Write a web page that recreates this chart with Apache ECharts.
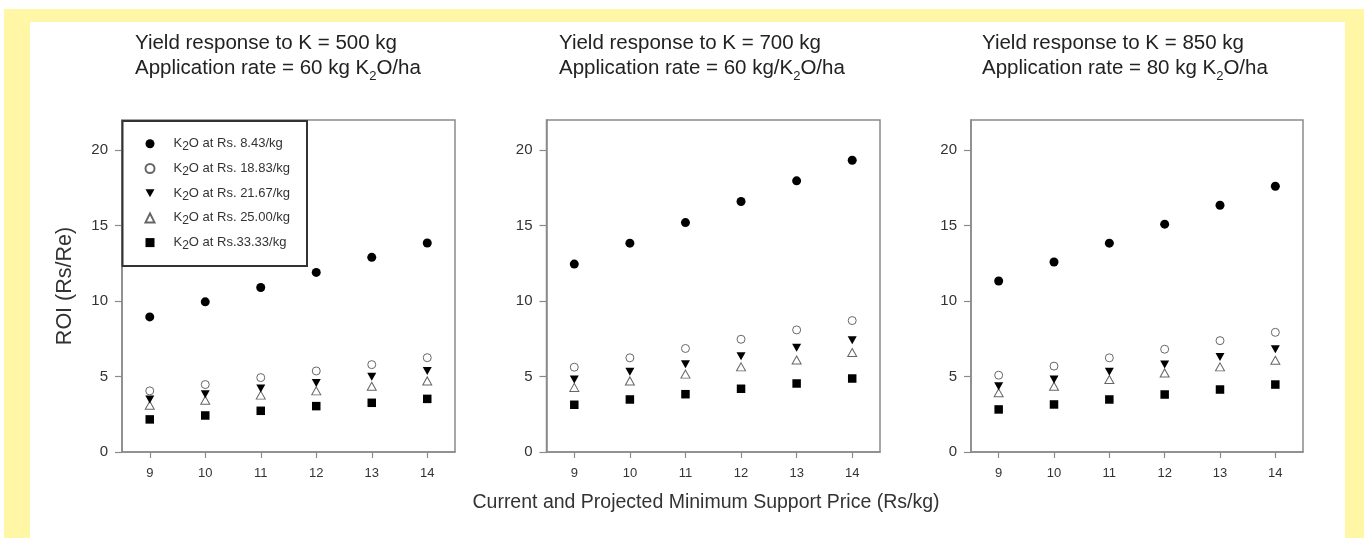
<!DOCTYPE html>
<html>
<head>
<meta charset="utf-8">
<script src="https://cdn.jsdelivr.net/npm/echarts@6/dist/echarts.min.js"></script>
<style>
  html, body { margin: 0; padding: 0; width: 1364px; height: 538px; overflow: hidden; background: #ffffff; }
  #frame { position: absolute; left: 4px; top: 9px; width: 1360px; height: 529px; background: #FFF7A6; }
  #inner { position: absolute; left: 30px; top: 22px; width: 1315px; height: 516px; background: #ffffff; }
  #chart { position: absolute; left: 0; top: 0; width: 1364px; height: 538px; }
</style>
</head>
<body>
<div id="frame"></div>
<div id="inner"></div>
<div id="chart"></div>
<script>
// ---------- data ----------
const xCategories = ['9', '10', '11', '12', '13', '14'];
const yTicks = [0, 5, 10, 15, 20];
const seriesNames = ['K₂O at Rs. 8.43/kg', 'K₂O at Rs. 18.83/kg', 'K₂O at Rs. 21.67/kg', 'K₂O at Rs. 25.00/kg', 'K₂O at Rs.33.33/kg'];

// Panel 1: Yield response to K = 500 kg, 60 kg K2O/ha
const p1_rs843  = [8.95, 9.95, 10.9, 11.9, 12.9, 13.85];
const p1_rs1883 = [4.05, 4.47, 4.93, 5.37, 5.79, 6.25];
const p1_rs2167 = [3.48, 3.83, 4.20, 4.58, 4.98, 5.36];
const p1_rs2500 = [3.10, 3.43, 3.77, 4.05, 4.36, 4.71];
const p1_rs3333 = [2.16, 2.42, 2.73, 3.04, 3.26, 3.52];

// Panel 2: Yield response to K = 700 kg, 60 kg K2O/ha
const p2_rs843  = [12.45, 13.84, 15.2, 16.6, 17.97, 19.33];
const p2_rs1883 = [5.62, 6.24, 6.86, 7.47, 8.09, 8.71];
const p2_rs2167 = [4.80, 5.31, 5.82, 6.35, 6.90, 7.41];
const p2_rs2500 = [4.28, 4.71, 5.16, 5.64, 6.10, 6.59];
const p2_rs3333 = [3.13, 3.48, 3.83, 4.19, 4.54, 4.87];

// Panel 3: Yield response to K = 850 kg, 80 kg K2O/ha
const p3_rs843  = [11.33, 12.59, 13.84, 15.1, 16.35, 17.61];
const p3_rs1883 = [5.09, 5.69, 6.24, 6.81, 7.38, 7.93];
const p3_rs2167 = [4.36, 4.80, 5.31, 5.79, 6.30, 6.81];
const p3_rs2500 = [3.92, 4.36, 4.80, 5.24, 5.64, 6.08];
const p3_rs3333 = [2.82, 3.15, 3.48, 3.81, 4.14, 4.47];

const panelTitles = [
  ['Yield response to K = 500 kg', 'Application rate = 60 kg K', '2', 'O/ha'],
  ['Yield response to K = 700 kg', 'Application rate = 60 kg/K', '2', 'O/ha'],
  ['Yield response to K = 850 kg', 'Application rate = 80 kg K', '2', 'O/ha']
];
const yAxisTitle = 'ROI (Rs/Re)';
const xAxisTitle = 'Current and Projected Minimum Support Price (Rs/kg)';

const panels = [
  [p1_rs843, p1_rs1883, p1_rs2167, p1_rs2500, p1_rs3333],
  [p2_rs843, p2_rs1883, p2_rs2167, p2_rs2500, p2_rs3333],
  [p3_rs843, p3_rs1883, p3_rs2167, p3_rs2500, p3_rs3333]
];

// ---------- styling ----------
const FONT = 'Liberation Sans, Arial, sans-serif';
const axisGray = '#8a8a8a';
const textColor = '#333333';
const TRI_DOWN = 'path://M0,0 L10,0 L5,9 Z';
const markerStyles = [
  { symbol: 'circle',   symbolSize: 9,      symbolRotate: 0,   itemStyle: { color: '#000000', opacity: 1 } },
  { symbol: 'circle',   symbolSize: 8,      symbolRotate: 0,   itemStyle: { color: '#ffffff', borderColor: '#666666', borderWidth: 1, opacity: 1 } },
  { symbol: 'triangle', symbolSize: [9, 8], symbolRotate: 180, itemStyle: { color: '#000000', opacity: 1 } },
  { symbol: 'triangle', symbolSize: [9, 8], symbolRotate: 0,   itemStyle: { color: '#ffffff', borderColor: '#666666', borderWidth: 1, opacity: 1 } },
  { symbol: 'rect',     symbolSize: 8.5,    symbolRotate: 0,   itemStyle: { color: '#000000', opacity: 1 } }
];

const gridBoxes = [
  { left: 122, top: 120, width: 333, height: 332 },
  { left: 546.5, top: 120, width: 333.5, height: 332 },
  { left: 971, top: 120, width: 332, height: 332 }
];
const titleLefts = [135, 559, 982];

const grids = [], xAxes = [], yAxes = [], series = [], titles = [];
gridBoxes.forEach((g, i) => {
  grids.push(Object.assign({ show: true, borderColor: axisGray, borderWidth: 1.5, backgroundColor: 'transparent', containLabel: false }, g));
  xAxes.push({
    type: 'category', gridIndex: i, data: xCategories, boundaryGap: true,
    axisLine: { show: true, lineStyle: { color: axisGray, width: 1.5 } },
    axisTick: { show: true, alignWithLabel: true, length: 6, lineStyle: { color: axisGray, width: 1.2 } },
    axisLabel: { margin: 15, fontSize: 13, color: textColor, fontFamily: FONT },
    splitLine: { show: false }
  });
  const y = {
    type: 'value', gridIndex: i, min: 0, max: 22, interval: 5,
    axisLine: { show: true, lineStyle: { color: axisGray, width: 1.5 } },
    axisTick: { show: true, length: 7, customValues: yTicks, lineStyle: { color: axisGray, width: 1.2 } },
    axisLabel: { margin: 14, fontSize: 15, color: textColor, customValues: yTicks, fontFamily: FONT },
    splitLine: { show: false }
  };
  if (i === 0) {
    Object.assign(y, {
      name: yAxisTitle, nameLocation: 'middle', nameRotate: 90, nameGap: 46,
      nameTextStyle: { fontSize: 21.5, color: textColor, fontFamily: FONT }
    });
  }
  yAxes.push(y);
  panels[i].forEach((vals, k) => {
    const m = markerStyles[k];
    series.push({
      type: 'scatter', name: seriesNames[k], xAxisIndex: i, yAxisIndex: i,
      data: vals,
      symbol: m.symbol, symbolSize: m.symbolSize, symbolRotate: m.symbolRotate,
      itemStyle: m.itemStyle,
      emphasis: { disabled: true }, z: 5 - k
    });
  });
  const t = panelTitles[i];
  titles.push({
    left: titleLefts[i], top: 33,
    text: '{a|' + t[0] + '}\n{a|' + t[1] + '}{s|' + t[2] + '}{a|' + t[3] + '}',
    textStyle: {
      fontWeight: 'normal',
      rich: {
        a: { fontSize: 20.5, lineHeight: 25, fontWeight: 'normal', color: '#222222', fontFamily: FONT, verticalAlign: 'top' },
        s: { fontSize: 13, lineHeight: 13, fontWeight: 'normal', color: '#222222', fontFamily: FONT, verticalAlign: 'bottom' }
      }
    },
    padding: 0
  });
});

const legendData = seriesNames.map((n, k) => (k === 2 ? { name: n, icon: TRI_DOWN } : { name: n }));

const option = {
  animation: false,
  backgroundColor: 'transparent',
  title: titles,
  grid: grids,
  xAxis: xAxes,
  yAxis: yAxes,
  legend: {
    orient: 'vertical', left: 122.5, top: 121,
    padding: [16.3, 17, 14.3, 22],
    itemWidth: 9, itemHeight: 9, itemGap: 9.2,
    symbolKeepAspect: true,
    borderColor: '#333333', borderWidth: 2, backgroundColor: '#ffffff',
    selectedMode: false,
    data: legendData,
    formatter: function (name) {
      const rest = name.replace('K₂O', '');
      return '{n|K}{s|2}{n|O' + rest + '}';
    },
    textStyle: {
      padding: [0, 0, 0, 14],
      rich: {
        n: { fontSize: 13, lineHeight: 18, color: textColor, fontFamily: FONT, verticalAlign: 'middle' },
        s: { fontSize: 12, lineHeight: 10, color: textColor, fontFamily: FONT, verticalAlign: 'bottom' }
      }
    }
  },
  graphic: [{
    type: 'text', x: 706, y: 503,
    style: { text: xAxisTitle, fontSize: 19.5, fill: textColor, fontFamily: FONT, align: 'center', verticalAlign: 'middle' }
  }],
  series: series
};

const chart = echarts.init(document.getElementById('chart'), null, { renderer: 'canvas' });
chart.setOption(option);
</script>
</body>
</html>
